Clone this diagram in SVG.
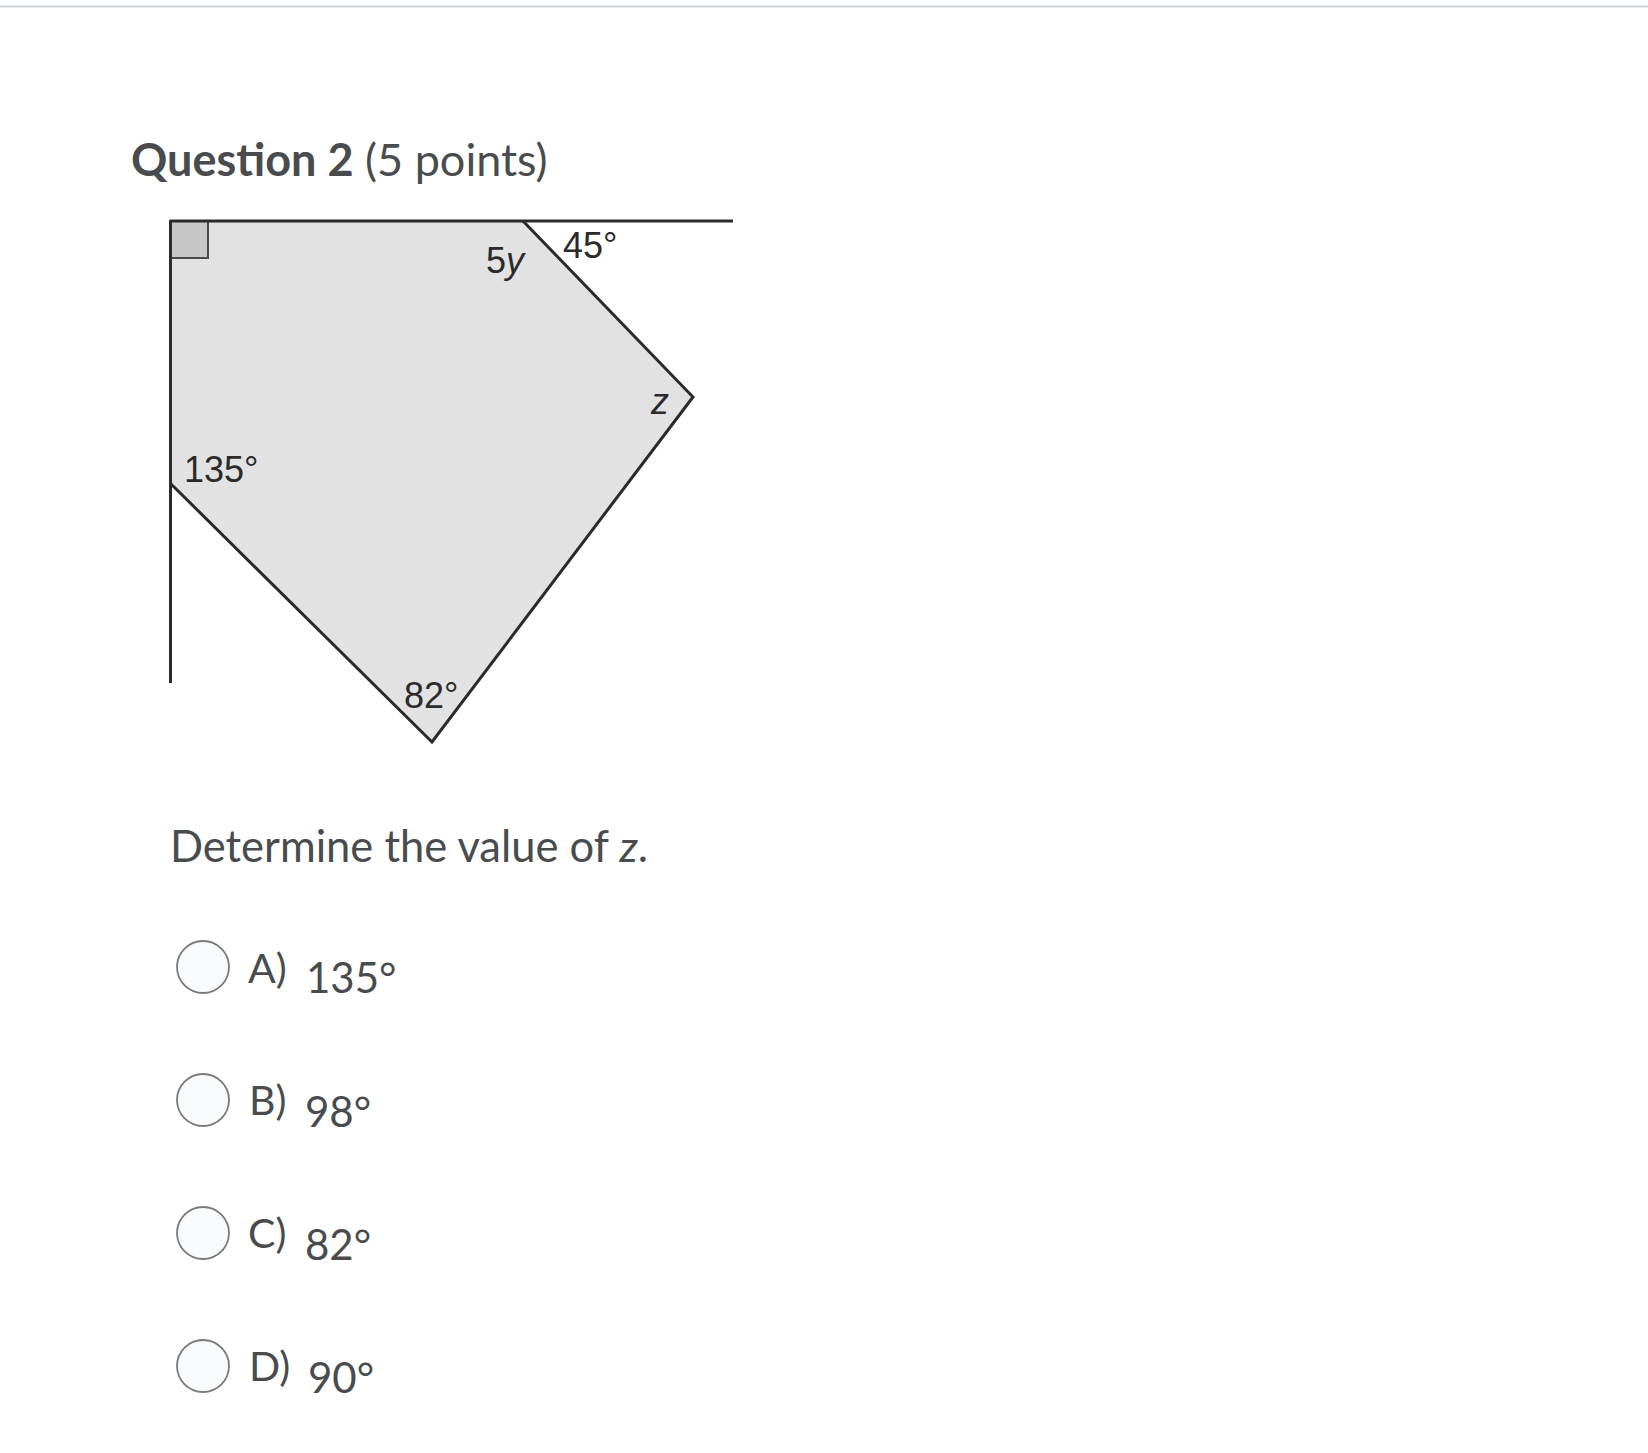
<svg xmlns="http://www.w3.org/2000/svg" width="1648" height="1453" viewBox="0 0 1648 1453">
<style>
.ui{font-family:Lato,"Liberation Sans",sans-serif;fill:#494c4e}
.lbl{font-family:"Liberation Sans",Arial,sans-serif;font-size:36px;fill:#2a2a2a}
.opt{fill:#f9fafc;stroke:#7a7a7a;stroke-width:1.8}
.edge{stroke:#2a2a2a;stroke-width:3;fill:none;stroke-linecap:butt}
</style>
<rect x="0" y="0" width="1648" height="1453" fill="#ffffff"/>
<line x1="0" y1="6.5" x2="1648" y2="6.5" stroke="#cdd5dc" stroke-width="2"/>
<g id="title">
<text class="ui" x="131" y="176" font-size="45"><tspan font-weight="bold">Question 2</tspan> (5 points)</text>
</g>
<g id="figure">
<polygon points="170,221 523,221 693,397 432,742 171,484" fill="#e1e2e1"/>
<rect x="170" y="221" width="38" height="37" fill="#c6c6c6" stroke="#4a4a4a" stroke-width="2"/>
<g id="connectors">
<line class="edge" x1="170" y1="221" x2="733" y2="221" stroke-width="3"/>
<line class="edge" x1="170.5" y1="220" x2="170.5" y2="683" stroke-width="3"/>
<polyline class="edge" points="523,221 693,397 432,742 171,484"/>
</g>
<text class="lbl" x="486" y="273">5<tspan font-style="italic">y</tspan></text>
<text class="lbl" x="563" y="258">45°</text>
<text class="lbl" x="651" y="414" font-style="italic">z</text>
<text class="lbl" x="184" y="482">135°</text>
<text class="lbl" x="404" y="708">82°</text>
</g>
<g id="prompt">
<text class="ui" x="170" y="862" font-size="43.5">Determine the value of <tspan font-style="italic">z</tspan>.</text>
</g>
<g id="optA">
<circle class="opt" cx="203" cy="967" r="26"/>
<text class="ui" x="248" y="983" font-size="41">A)</text>
<text class="ui" x="306" y="993" font-size="42">135°</text>
</g>
<g id="optB">
<circle class="opt" cx="203" cy="1100" r="26"/>
<text class="ui" x="249" y="1115" font-size="41">B)</text>
<text class="ui" x="305" y="1127" font-size="42">98°</text>
</g>
<g id="optC">
<circle class="opt" cx="203" cy="1233" r="26"/>
<text class="ui" x="248" y="1248" font-size="41">C)</text>
<text class="ui" x="305" y="1260" font-size="42">82°</text>
</g>
<g id="optD">
<circle class="opt" cx="203" cy="1366" r="26"/>
<text class="ui" x="249" y="1381" font-size="41">D)</text>
<text class="ui" x="308" y="1393" font-size="42">90°</text>
</g>
</svg>
